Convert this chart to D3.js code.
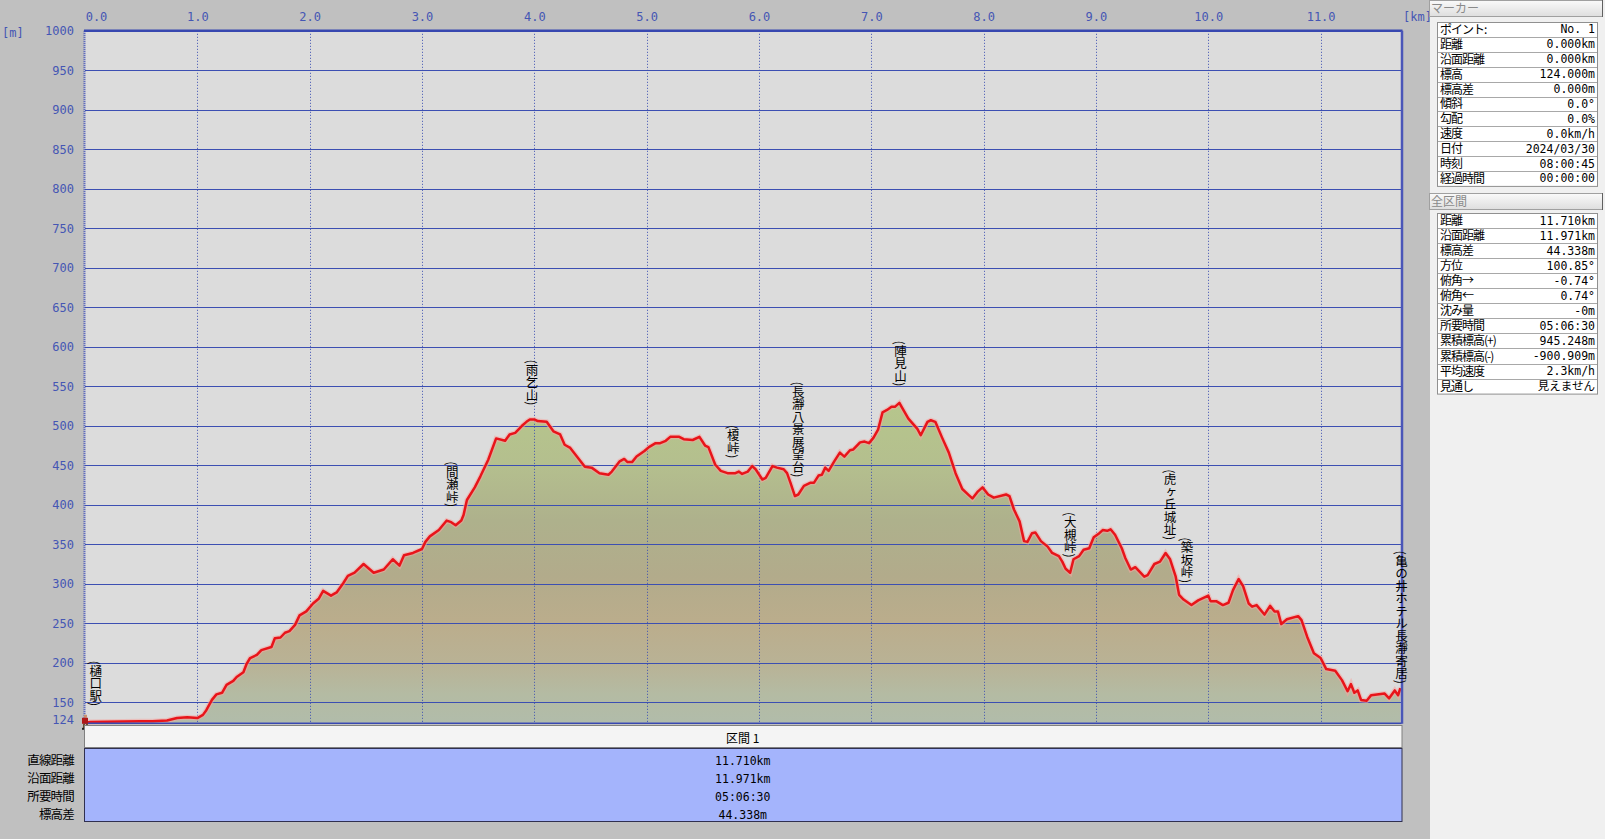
<!DOCTYPE html>
<html>
<head>
<meta charset="utf-8">
<script src="https://cdn.jsdelivr.net/npm/d3@7"></script>
<style>
body { margin: 0; background: #f0f0f0; overflow: hidden; }
svg { display: block; }
.ax text { fill: #4556b4; font-family: "DejaVu Sans Mono", monospace; font-size: 12px; }
.jp { font-family: "Noto Sans CJK JP", sans-serif; }
.num { font-family: "DejaVu Sans Mono", "Noto Sans CJK JP", monospace; }
</style>
</head>
<body>
<div id="chart"></div>
<script>
var W = 1605, H = 839;

// elevation profile (distance km / elevation m)
var distKm = [0.00,0.05,0.49,0.60,0.73,0.82,0.91,1.00,1.05,1.08,1.13,1.17,1.22,1.26,1.32,1.35,1.41,1.44,1.47,1.53,1.57,1.66,1.69,1.74,1.78,1.82,1.87,1.91,1.97,2.03,2.08,2.12,2.19,2.24,2.30,2.34,2.40,2.48,2.57,2.66,2.74,2.80,2.84,2.92,3.00,3.03,3.07,3.15,3.22,3.26,3.30,3.35,3.37,3.40,3.47,3.52,3.59,3.66,3.74,3.78,3.83,3.89,3.93,3.96,4.00,4.03,4.11,4.17,4.23,4.27,4.32,4.45,4.51,4.58,4.66,4.69,4.76,4.80,4.83,4.87,4.91,4.98,5.02,5.08,5.12,5.17,5.21,5.29,5.33,5.41,5.47,5.52,5.55,5.61,5.66,5.72,5.79,5.82,5.85,5.90,5.94,5.97,6.03,6.06,6.12,6.16,6.22,6.25,6.28,6.32,6.35,6.40,6.46,6.49,6.53,6.56,6.59,6.62,6.67,6.72,6.76,6.81,6.84,6.90,6.94,6.98,7.02,7.06,7.10,7.14,7.18,7.21,7.25,7.27,7.33,7.41,7.44,7.50,7.53,7.57,7.63,7.69,7.75,7.81,7.87,7.90,7.95,7.99,8.04,8.09,8.20,8.23,8.27,8.32,8.36,8.39,8.43,8.46,8.51,8.57,8.61,8.67,8.70,8.73,8.77,8.80,8.85,8.89,8.94,8.98,9.03,9.06,9.10,9.13,9.17,9.23,9.26,9.31,9.35,9.43,9.46,9.52,9.57,9.62,9.66,9.71,9.74,9.78,9.85,9.91,10.00,10.02,10.07,10.13,10.18,10.22,10.27,10.31,10.36,10.39,10.43,10.50,10.55,10.59,10.62,10.65,10.70,10.80,10.83,10.88,10.94,11.00,11.05,11.13,11.19,11.24,11.27,11.30,11.33,11.36,11.41,11.45,11.57,11.61,11.66,11.69,11.71];
var elevM = [124,125,126,126,127,130,131,130,134,140,153,160,162,172,177,182,188,199,206,210,216,220,231,232,238,240,248,260,265,275,281,291,285,289,301,310,314,325,314,318,331,323,336,339,344,353,360,368,380,378,374,380,387,406,422,436,457,484,481,489,491,500,505,508,508,506,505,493,489,476,472,448,447,440,438,442,455,458,454,454,461,468,473,478,478,481,486,486,483,482,486,475,473,451,443,440,440,442,439,442,449,445,432,434,449,447,445,440,428,411,413,424,428,428,437,438,447,443,455,466,461,469,470,479,480,478,485,495,517,520,524,524,529,524,509,496,488,505,507,505,485,466,440,420,412,408,417,422,413,409,413,411,394,379,354,353,364,365,354,347,339,335,328,319,314,331,335,343,345,359,364,368,367,369,362,345,333,318,321,309,311,325,328,339,331,309,286,280,273,279,285,278,278,273,276,292,306,297,275,271,273,261,272,265,265,249,255,259,254,233,212,206,192,190,178,164,173,162,165,153,152,159,161,155,165,159,168];

// waypoint labels: name, distance, elevation at top of label
var wpNames = ["樋口駅","間瀬峠","雨乞山","榎峠","長瀞八景展望台","陣見山","大槻峠","虎ヶ丘城址","築坂峠","亀の井ホテル長瀞寄居"];
var wpKm    = [0.095, 3.27, 3.98, 5.77, 6.35, 7.26, 8.77, 9.66, 9.81, 11.72];
var wpTop   = [203, 455, 584, 501, 556, 608, 391, 445, 359, 342];

var xTicks = [0,1,2,3,4,5,6,7,8,9,10,11];
var yTicks = [150,200,250,300,350,400,450,500,550,600,650,700,750,800,850,900,950,1000];
var yBase = 124;

// right hand panels
var markerLabels = ["ポイント:","距離","沿面距離","標高","標高差","傾斜","勾配","速度","日付","時刻","経過時間"];
var markerValues = ["No. 1","0.000km","0.000km","124.000m","0.000m","0.0°","0.0%","0.0km/h","2024/03/30","08:00:45","00:00:00"];
var totalLabels = ["距離","沿面距離","標高差","方位","俯角→","俯角←","沈み量","所要時間","累積標高(+)","累積標高(-)","平均速度","見通し"];
var totalValues = ["11.710km","11.971km","44.338m","100.85°","-0.74°","0.74°","-0m","05:06:30","945.248m","-900.909m","2.3km/h","見えません"];

// bottom section table
var sectionTitle = "区間 1";
var sectionLabels = ["直線距離","沿面距離","所要時間","標高差"];
var sectionValues = ["11.710km","11.971km","05:06:30","44.338m"];

var plot = {left: 85, right: 1401.5, top: 30.8, bottom: 722.8};

var svg = d3.select("#chart").append("svg")
    .attr("width", W)
    .attr("height", H);

// backgrounds
svg.append("rect").attr("x", 0).attr("y", 0).attr("width", 1430).attr("height", H).attr("fill", "#c0c0c0");
svg.append("rect").attr("x", 1430).attr("y", 0).attr("width", W - 1430).attr("height", H).attr("fill", "#f0f0f0");

var xScale = d3.scaleLinear().domain([0, 11.72]).range([plot.left, plot.right]);
var yScale = d3.scaleLinear().domain([yBase, 1000]).range([plot.bottom, plot.top]);

svg.append("rect")
    .attr("x", plot.left - 1).attr("y", plot.top)
    .attr("width", plot.right - plot.left + 1).attr("height", plot.bottom - plot.top)
    .attr("fill", "#dcdcdc");

// gradient for the area fill, keyed to elevation
var defs = svg.append("defs");
var grad = defs.append("linearGradient")
    .attr("id", "fillGrad")
    .attr("gradientUnits", "userSpaceOnUse")
    .attr("x1", 0).attr("x2", 0)
    .attr("y1", yScale(530)).attr("y2", yScale(yBase));
var gradStops = [[530,"#b6c68c"],[450,"#b4bf8e"],[380,"#aeb18c"],[310,"#b2ab8b"],[250,"#bbad8c"],[200,"#b9b295"],[160,"#b4bba3"],[124,"#b1bcaa"]];
grad.selectAll("stop").data(gradStops).enter().append("stop")
    .attr("offset", function(d) { return (yScale(d[0]) - yScale(530)) / (yScale(yBase) - yScale(530)); })
    .attr("stop-color", function(d) { return d[1]; });

var pts = distKm.map(function(d, i) { return [d, elevM[i]]; });

var area = d3.area()
    .x(function(d) { return xScale(d[0]); })
    .y0(yScale(yBase))
    .y1(function(d) { return yScale(d[1]); });

svg.append("path").datum(pts).attr("d", area).attr("fill", "url(#fillGrad)");

// grid
svg.selectAll(".hgrid").data(yTicks.filter(function(d){ return d < 1000; })).enter().append("line")
    .attr("x1", plot.left).attr("x2", plot.right)
    .attr("y1", function(d) { return Math.round(yScale(d)) + 0.5; })
    .attr("y2", function(d) { return Math.round(yScale(d)) + 0.5; })
    .attr("stroke", "#3c4fb2").attr("stroke-width", 1.2);

svg.selectAll(".vgrid").data(xTicks.filter(function(d){ return d > 0; })).enter().append("line")
    .attr("x1", function(d) { return Math.round(xScale(d)) + 0.5; })
    .attr("x2", function(d) { return Math.round(xScale(d)) + 0.5; })
    .attr("y1", plot.top).attr("y2", plot.bottom)
    .attr("stroke", "#3c4fb2").attr("stroke-width", 1)
    .attr("stroke-dasharray", "1,2");

var line = d3.line()
    .x(function(d) { return xScale(d[0]); })
    .y(function(d) { return yScale(d[1]); });

// pinkish halo then red line
svg.append("path").datum(pts).attr("d", line)
    .attr("fill", "none").attr("stroke", "#f4a6a0").attr("stroke-width", 5).attr("stroke-opacity", 0.55);
svg.append("path").datum(pts).attr("d", line)
    .attr("fill", "none").attr("stroke", "#e8141a").attr("stroke-width", 2.5).attr("stroke-linejoin", "round");

// frame
svg.append("line").attr("x1", plot.left - 1).attr("x2", plot.right + 1).attr("y1", plot.top).attr("y2", plot.top)
    .attr("stroke", "#3848b0").attr("stroke-width", 2.5);
svg.append("line").attr("x1", plot.right + 0.5).attr("x2", plot.right + 0.5).attr("y1", plot.top).attr("y2", plot.bottom + 1)
    .attr("stroke", "#4a56b8").attr("stroke-width", 2.5);
svg.append("line").attr("x1", plot.left - 0.5).attr("x2", plot.left - 0.5).attr("y1", plot.top).attr("y2", plot.bottom + 1)
    .attr("stroke", "#3848b0").attr("stroke-width", 2).attr("stroke-dasharray", "1,1");
svg.append("line").attr("x1", plot.left).attr("x2", plot.right).attr("y1", plot.bottom + 0.5).attr("y2", plot.bottom + 0.5)
    .attr("stroke", "#3848b0").attr("stroke-width", 1.5);

// axes
var xAxis = svg.append("g").attr("class", "ax")
    .attr("transform", "translate(0,22)")
    .call(d3.axisTop(xScale).tickValues(xTicks).tickSize(0).tickFormat(d3.format(".1f")));
xAxis.select(".domain").remove();
xAxis.selectAll("text").attr("dy", "0.35em").attr("y", -5)
    .attr("dx", function(d) { return d === 0 ? 11 : 0; });

var yAxis = svg.append("g").attr("class", "ax")
    .attr("transform", "translate(74,0)")
    .call(d3.axisLeft(yScale).tickValues(yTicks.concat([yBase])).tickSize(0).tickFormat(d3.format("d")));
yAxis.select(".domain").remove();
yAxis.selectAll("text").attr("x", 0)
    .attr("dy", function(d) { return d === yBase ? "0.05em" : "0.32em"; });

svg.append("text").attr("class", "num").attr("x", 2).attr("y", 37)
    .attr("fill", "#4556b4").style("font-size", "12px").text("[m]");
svg.append("text").attr("class", "num").attr("x", 1403).attr("y", 21)
    .attr("fill", "#4556b4").style("font-size", "12px").text("[km]");

// waypoint labels (vertical text)
svg.selectAll(".wp").data(wpNames).enter().append("text")
    .attr("class", "jp")
    .attr("x", function(d, i) { return xScale(wpKm[i]); })
    .attr("y", function(d, i) { return yScale(wpTop[i]); })
    .style("writing-mode", "vertical-rl")
    .style("font-size", "12.5px")
    .attr("fill", "#000")
    .text(function(d) { return "(" + d + ")"; });

// small hiker marker at the start
var hiker = svg.append("g").attr("transform", "translate(" + (xScale(0) - 3) + "," + (yScale(yBase) - 8) + ")");
hiker.append("rect").attr("x", 2).attr("y", 0).attr("width", 3).attr("height", 3).attr("fill", "#c89070");
hiker.append("rect").attr("x", 0).attr("y", 3).attr("width", 6).attr("height", 6).attr("fill", "#b01818");
hiker.append("rect").attr("x", 1).attr("y", 9).attr("width", 2).attr("height", 5).attr("fill", "#6a5030");
hiker.append("rect").attr("x", 4).attr("y", 9).attr("width", 2).attr("height", 5).attr("fill", "#6a5030");
hiker.append("rect").attr("x", 0).attr("y", 13).attr("width", 8).attr("height", 2).attr("fill", "#222");

// bottom section table
svg.append("rect").attr("x", 84.5).attr("y", 725.5).attr("width", plot.right - 84).attr("height", 22)
    .attr("fill", "#f4f4f4").attr("stroke", "#808080");
svg.append("text").attr("class", "jp").attr("x", (84 + plot.right) / 2).attr("y", 742.5)
    .attr("text-anchor", "middle").style("font-size", "12px").text(sectionTitle);
svg.append("rect").attr("x", 84.5).attr("y", 748.5).attr("width", plot.right - 84).attr("height", 73)
    .attr("fill", "#a4b4fc").attr("stroke", "#303050");

sectionLabels.forEach(function(lab, i) {
    var yy = 764.5 + i * 18;
    svg.append("text").attr("class", "jp").attr("x", 74).attr("y", yy)
        .attr("text-anchor", "end").style("font-size", "12.5px").style("letter-spacing", "-0.8px").text(lab);
    svg.append("text").attr("class", "num").attr("x", (84 + plot.right) / 2).attr("y", yy)
        .attr("text-anchor", "middle").style("font-size", "11.5px").text(sectionValues[i]);
});

// right panels
function panel(title, top, labels, values, tableTop, rowH) {
    var hb = svg.append("g");
    var hg = defs.append("linearGradient").attr("id", "hdr" + top).attr("x1", 0).attr("x2", 0).attr("y1", 0).attr("y2", 1);
    hg.append("stop").attr("offset", 0).attr("stop-color", "#fafafa");
    hg.append("stop").attr("offset", 1).attr("stop-color", "#dedede");
    hb.append("rect").attr("x", 1429.5).attr("y", top + 0.5).attr("width", 173).attr("height", 16)
        .attr("fill", "url(#hdr" + top + ")").attr("stroke", "#a0a0a0");
    hb.append("line").attr("x1", 1602.5).attr("x2", 1602.5).attr("y1", top).attr("y2", top + 17).attr("stroke", "#606060");
    hb.append("text").attr("class", "jp").attr("x", 1431).attr("y", top + 13)
        .attr("fill", "#8a8a8a").style("font-size", "12px").text(title);

    var t = svg.append("g");
    var h = labels.length * rowH;
    t.append("rect").attr("x", 1437.5).attr("y", tableTop + 0.5).attr("width", 160).attr("height", h)
        .attr("fill", "#ffffff").attr("stroke", "#909090");
    labels.forEach(function(lab, i) {
        var y0 = tableTop + i * rowH;
        if (i > 0) {
            t.append("line").attr("x1", 1438).attr("x2", 1597).attr("y1", Math.round(y0) + 0.5).attr("y2", Math.round(y0) + 0.5)
                .attr("stroke", "#a8a8a8");
        }
        t.append("text").attr("class", "jp").attr("x", 1440).attr("y", y0 + rowH - 3)
            .style("font-size", "12px").style("letter-spacing", "-1px").text(lab);
        t.append("text").attr("class", "num").attr("x", 1595).attr("y", y0 + rowH - 3.5)
            .attr("text-anchor", "end").style("font-size", "11.5px").text(values[i]);
    });
}
panel("マーカー", 0, markerLabels, markerValues, 22, 14.9);
panel("全区間", 193, totalLabels, totalValues, 213, 15.05);
</script>
</body>
</html>
